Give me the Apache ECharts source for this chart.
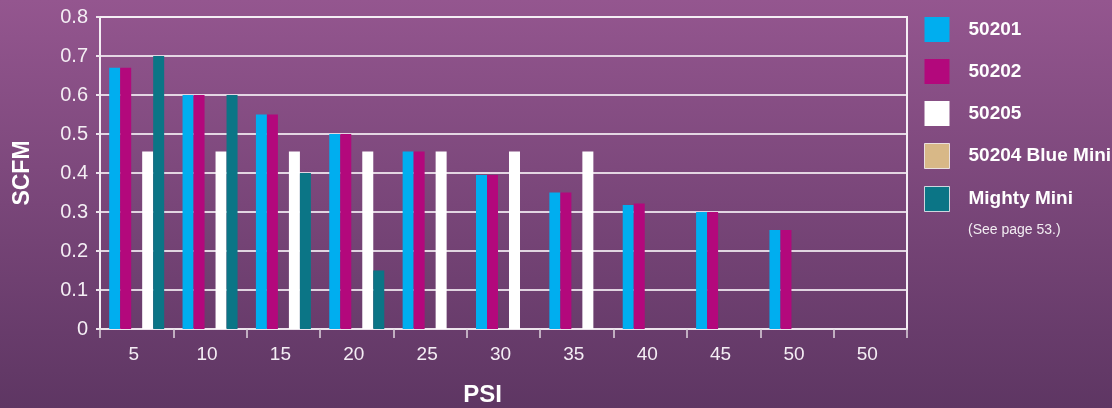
<!DOCTYPE html>
<html>
<head>
<meta charset="utf-8">
<script src="https://cdn.jsdelivr.net/npm/echarts@6/dist/echarts.min.js"></script>
<style>
  html, body { margin: 0; padding: 0; }
  #chart { width: 1112px; height: 408px; }
</style>
</head>
<body>
<div id="chart"></div>
<script>
// Air consumption (SCFM) by supply pressure (PSI)
const psiLabels = ['5', '10', '15', '20', '25', '30', '35', '40', '45', '50', '50'];
const scfmTicks = [0, 0.1, 0.2, 0.3, 0.4, 0.5, 0.6, 0.7, 0.8];

const s50201 = [0.67, 0.60, 0.55, 0.50, 0.455, 0.395, 0.35, 0.318, 0.30, 0.254, null];
const s50202 = [0.67, 0.60, 0.55, 0.50, 0.455, 0.395, 0.35, 0.322, 0.30, 0.254, null];
const s50204 = [null, null, null, null, null, null, null, null, null, null, null];
const s50205 = [0.455, 0.455, 0.455, 0.455, 0.455, 0.455, 0.455, null, null, null, null];
const sMighty = [0.70, 0.60, 0.40, 0.15, null, null, null, null, null, null, null];

const colors = {
  '50201': '#00aeef',
  '50202': '#b3087c',
  '50205': '#ffffff',
  '50204 Blue Mini': '#d8b887',
  'Mighty Mini': '#0b7586'
};

const FONT = "'Liberation Sans', Arial, sans-serif";
const chart = echarts.init(document.getElementById('chart'));

function bar(name, data) {
  return {
    name: name,
    type: 'bar',
    data: data,
    barWidth: 11,
    barGap: '0%',
    itemStyle: { color: colors[name] }
  };
}

chart.setOption({
  backgroundColor: {
    type: 'linear', x: 0, y: 0, x2: 0, y2: 1,
    colorStops: [
      { offset: 0, color: '#94568f' },
      { offset: 1, color: '#5e3663' }
    ]
  },
  animation: false,
  grid: {
    left: 100, right: 205, top: 17, bottom: 79,
    outerBoundsMode: 'none',
    containLabel: false,
    show: true, borderColor: '#f4eef4', borderWidth: 2,
    backgroundColor: 'transparent'
  },
  legend: {
    orient: 'vertical',
    left: 924, top: 17,
    padding: 0,
    itemWidth: 25, itemHeight: 25, itemGap: 17,
    icon: 'rect',
    textStyle: {
      color: '#ffffff', fontFamily: FONT, fontWeight: 'bold', fontSize: 19,
      padding: [0, 0, 0, 14]
    },
    data: [
      { name: '50201' },
      { name: '50202' },
      { name: '50205' },
      { name: '50204 Blue Mini', itemStyle: { borderColor: 'rgba(255,255,255,0.75)', borderWidth: 1 } },
      { name: 'Mighty Mini', itemStyle: { borderColor: 'rgba(255,255,255,0.75)', borderWidth: 1 } }
    ]
  },
  graphic: [{
    type: 'text',
    left: 968, top: 223,
    style: {
      text: '(See page 53.)',
      fill: 'rgba(255,255,255,0.9)',
      font: "14px 'Liberation Sans', Arial, sans-serif"
    }
  }],
  xAxis: {
    type: 'category',
    data: psiLabels,
    name: 'PSI',
    nameLocation: 'middle',
    nameGap: 54,
    nameTextStyle: {
      color: '#ffffff', fontFamily: FONT, fontWeight: 'bold', fontSize: 24,
      padding: [0, 42, 0, 0]
    },
    axisLine: { lineStyle: { color: '#ece4ec', width: 2 } },
    axisTick: { show: true, length: 9, lineStyle: { color: '#ddd3dd', width: 1.5 } },
    axisLabel: {
      color: '#f4eef4', fontFamily: FONT, fontSize: 19, margin: 16,
      padding: [0, 6, 0, 0], interval: 0
    }
  },
  yAxis: {
    type: 'value',
    min: scfmTicks[0],
    max: scfmTicks[scfmTicks.length - 1],
    interval: 0.1,
    name: 'SCFM',
    nameLocation: 'middle',
    nameRotate: 90,
    nameGap: 66,
    nameTextStyle: { color: '#ffffff', fontFamily: FONT, fontWeight: 'bold', fontSize: 23 },
    axisLine: { show: true, lineStyle: { color: '#f4eef4', width: 2 } },
    axisTick: { show: true, length: 4, lineStyle: { color: '#ece4ec', width: 2 } },
    axisLabel: {
      color: '#f4eef4', fontFamily: FONT, fontSize: 20, margin: 12,
      formatter: function (v) { return String(Math.round(v * 10) / 10); }
    },
    splitLine: { lineStyle: { color: 'rgba(245,238,245,0.85)', width: 2 } }
  },
  series: [
    bar('50201', s50201),
    bar('50202', s50202),
    bar('50204 Blue Mini', s50204),
    bar('50205', s50205),
    bar('Mighty Mini', sMighty)
  ]
});
</script>
</body>
</html>
